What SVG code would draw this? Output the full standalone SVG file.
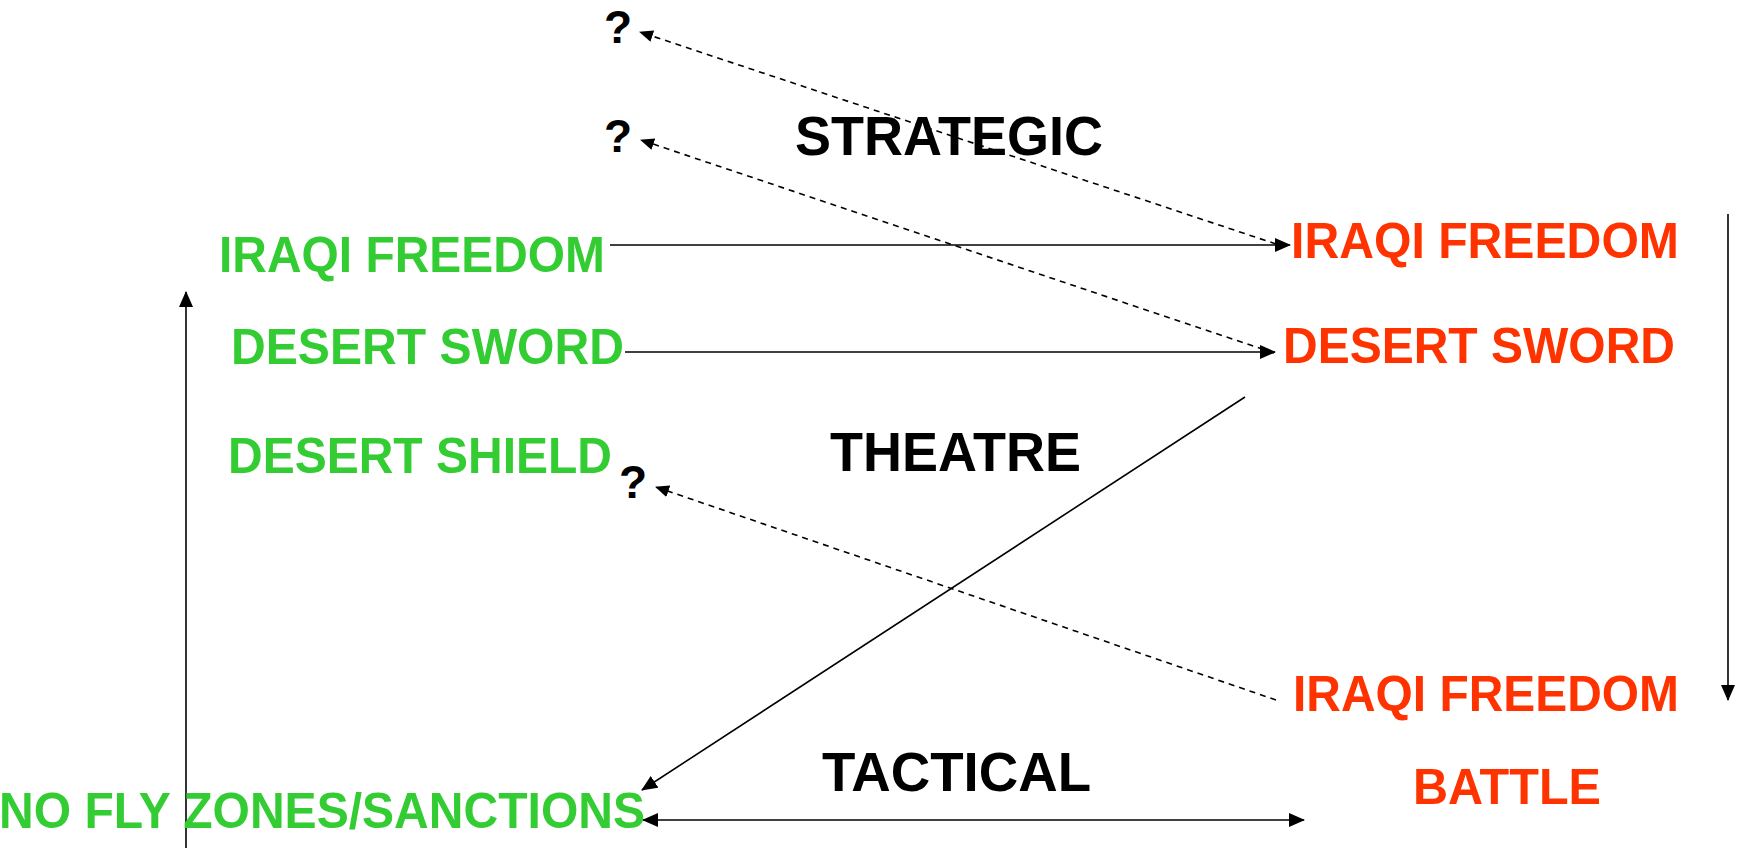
<svg xmlns="http://www.w3.org/2000/svg" width="1740" height="848" viewBox="0 0 1740 848">
<style>
text{font-family:"Liberation Sans",Arial,sans-serif;font-weight:bold}
.g{fill:#33CC33;font-size:50px}
.r{fill:#FF3300;font-size:50px}
.k{fill:#000;font-size:55px}
.q{fill:#000;font-size:46px}
.s{stroke:#000;stroke-width:1.6;fill:none}
.d{stroke:#000;stroke-width:1.6;fill:none;stroke-dasharray:6,5}
</style>
<defs>
<marker id="ah" markerUnits="userSpaceOnUse" markerWidth="16" markerHeight="14" refX="15" refY="7" orient="auto-start-reverse">
<path d="M0,0 L16,7 L0,14 z" fill="#000"/>
</marker>
<marker id="ahd" markerUnits="userSpaceOnUse" markerWidth="14" markerHeight="12" refX="13" refY="6" orient="auto">
<path d="M0,0 L14,6 L0,12 z" fill="#000"/>
</marker>
</defs>
<rect width="1740" height="848" fill="#fff"/>
<g id="connectors">
<line class="s" x1="610" y1="245" x2="1290" y2="245" marker-end="url(#ah)"/>
<line class="s" x1="625" y1="352" x2="1275" y2="352" marker-end="url(#ah)"/>
<line class="s" x1="1245" y1="397" x2="642" y2="790" marker-end="url(#ah)"/>
<line class="s" x1="643" y1="820" x2="1304" y2="820" marker-start="url(#ah)" marker-end="url(#ah)"/>
<line class="s" x1="1728" y1="214" x2="1728" y2="700" marker-end="url(#ah)"/>
<line class="s" x1="186" y1="848" x2="186" y2="292" marker-end="url(#ah)"/>
<line class="d" x1="1276" y1="244" x2="640" y2="32" marker-end="url(#ahd)"/>
<line class="d" x1="1274" y1="353" x2="641" y2="140" marker-end="url(#ahd)"/>
<line class="d" x1="1276" y1="700" x2="656" y2="487" marker-end="url(#ahd)"/>
</g>
<g id="q1"><text class="q" x="604" y="43">?</text></g>
<g id="q2"><text class="q" x="604" y="152">?</text></g>
<g id="q3"><text class="q" x="619" y="498">?</text></g>
<g id="strategic"><text class="k" x="795" y="155" textLength="308" lengthAdjust="spacingAndGlyphs">STRATEGIC</text></g>
<g id="theatre"><text class="k" x="830" y="471" textLength="251" lengthAdjust="spacingAndGlyphs">THEATRE</text></g>
<g id="tactical"><text class="k" x="822" y="791" textLength="269" lengthAdjust="spacingAndGlyphs">TACTICAL</text></g>
<g id="g-iraqi"><text class="g" x="219" y="272" textLength="386" lengthAdjust="spacingAndGlyphs">IRAQI FREEDOM</text></g>
<g id="g-sword"><text class="g" x="231" y="364" textLength="393" lengthAdjust="spacingAndGlyphs">DESERT SWORD</text></g>
<g id="g-shield"><text class="g" x="228" y="473" textLength="384" lengthAdjust="spacingAndGlyphs">DESERT SHIELD</text></g>
<g id="g-nofly"><text class="g" x="-1" y="828" textLength="646" lengthAdjust="spacingAndGlyphs">NO FLY ZONES/SANCTIONS</text></g>
<g id="r-iraqi1"><text class="r" x="1291" y="258" textLength="388" lengthAdjust="spacingAndGlyphs">IRAQI FREEDOM</text></g>
<g id="r-sword"><text class="r" x="1283" y="363" textLength="392" lengthAdjust="spacingAndGlyphs">DESERT SWORD</text></g>
<g id="r-iraqi2"><text class="r" x="1293" y="711" textLength="386" lengthAdjust="spacingAndGlyphs">IRAQI FREEDOM</text></g>
<g id="r-battle"><text class="r" x="1413" y="804" textLength="188" lengthAdjust="spacingAndGlyphs">BATTLE</text></g>
</svg>
